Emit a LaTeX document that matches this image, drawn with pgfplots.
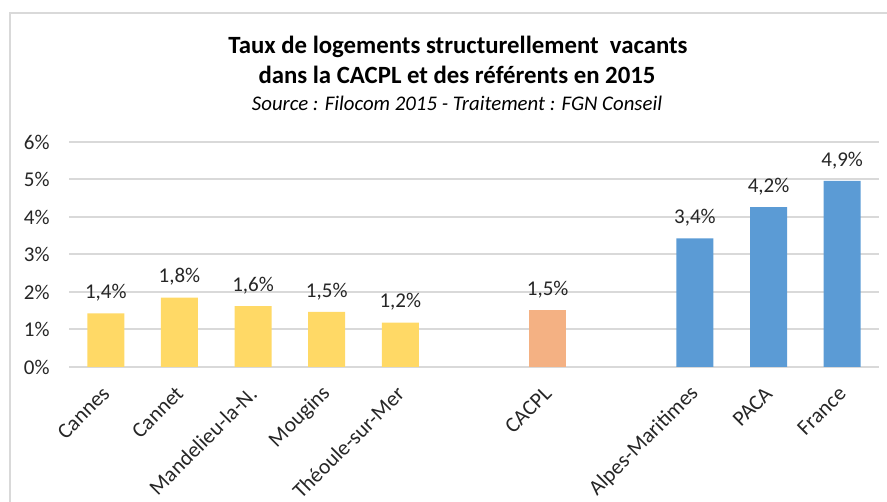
\documentclass[border=0pt]{standalone}
\usepackage{pgfplots}
\pgfplotsset{compat=1.18}
\usepackage{fontspec}
\setmainfont{Carlito}
\definecolor{cyel}{HTML}{FFD966}
\definecolor{corg}{HTML}{F4B183}
\definecolor{cblu}{HTML}{5B9BD5}
\definecolor{cgrid}{HTML}{D9D9D9}
\definecolor{ctxt}{HTML}{262626}
\begin{document}
\begin{tikzpicture}
\useasboundingbox (-34.5pt,-67.5pt) rectangle (409pt,183.5pt);
\draw[cgrid, line width=1pt] (-29.5pt,-80pt) -- (-29.5pt,177pt) -- (420pt,177pt);
\node[font=\fontsize{12.4}{14}\selectfont\bfseries, text=black] at (194.5pt,160pt) {Taux de logements structurellement\ \ vacants};
\node[font=\fontsize{12.4}{14}\selectfont\bfseries, text=black] at (194pt,146pt) {dans la CACPL et des référents en 2015};
\node[font=\fontsize{10.4}{12}\selectfont\itshape, text=black] at (194pt,132pt) {Source : Filocom 2015 - Traitement : FGN Conseil};
\begin{axis}[
  at={(0,0)}, anchor=south west,
  scale only axis, width=405pt, height=112.5pt,
  xmin=-0.5, xmax=10.5, ymin=0, ymax=6,
  ybar, bar width=18.5pt, bar shift=0pt,
  axis line style={draw=none},
  ymajorgrids, grid style={cgrid, line width=1pt},
  major tick length=0pt,
  ytick={0,1,2,3,4,5,6},
  yticklabel={\pgfmathprintnumber{\tick}\%},
  /pgf/number format/assume math mode=true,
  yticklabel style={anchor=east, inner sep=0pt, xshift=-9.5pt, font=\fontsize{10.5}{12}\selectfont, text=ctxt},
  xtick={0,1,2,3,4,6,8,9,10},
  xticklabels={Cannes,Cannet,Mandelieu-la-N.,Mougins,Théoule-sur-Mer,CACPL,Alpes-Maritimes,PACA,France},
  xticklabel style={xshift=0.2pt, yshift=-11.5pt, rotate=45, anchor=east, inner sep=0pt, font=\fontsize{10.8}{12}\selectfont, text=ctxt},
  nodes near coords={\pgfplotspointmeta\%},
  point meta=explicit symbolic,
  nodes near coords style={anchor=south, font=\fontsize{10.5}{12}\selectfont, text=ctxt, yshift=2.5pt},
]
\addplot[fill=cyel, draw=none] table[meta=lab] {
x y lab
0 1.43 1,4
1 1.85 1,8
2 1.62 1,6
3 1.47 1,5
4 1.18 1,2
};
\addplot[fill=corg, draw=none] table[meta=lab] {
x y lab
6 1.52 1,5
};
\addplot[fill=cblu, draw=none] table[meta=lab] {
x y lab
8 3.43 3,4
9 4.26 4,2
10 4.96 4,9
};
\end{axis}
\end{tikzpicture}
\end{document}
